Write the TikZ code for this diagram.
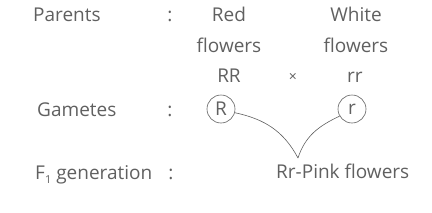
\documentclass[tikz,border=0pt]{standalone}
\usepackage{fontspec}
\setmainfont{Open Sans}
\definecolor{txtGray}{HTML}{606060}
\begin{document}
\begin{tikzpicture}[x=1pt,y=-1pt,
    crossTxt/.style={text=txtGray,font=\fontsize{19}{22}\selectfont,inner sep=0pt},
    gameteCirc/.style={crossTxt,circle,draw=txtGray,line width=0.6pt,minimum size=28pt},
    crossLine/.style={draw=txtGray,line width=0.6pt},
]
\useasboundingbox (0,0) rectangle (432,212);
% row labels
\node[crossTxt,anchor=base west] (parents) at (33,21) {Parents};
\node[crossTxt,anchor=base] (colP) at (170,21) {:};
\node[crossTxt,anchor=base west] (gametes) at (37,116) {Gametes};
\node[crossTxt,anchor=base] (colG) at (170,116) {:};
\node[crossTxt,anchor=base west] (f1) at (35,179)
    {F\raisebox{-0.45ex}{\fontsize{11}{12}\selectfont 1}\hspace{5pt}generation};
\node[crossTxt,anchor=base] (colF) at (171,179) {:};
% parents
\node[crossTxt,anchor=base] (red) at (229,21) {Red};
\node[crossTxt,anchor=base] (redFl) at (229,52) {flowers};
\node[crossTxt,anchor=base] (RR) at (229,82) {RR};
\node[crossTxt,anchor=base] (white) at (356,21) {White};
\node[crossTxt,anchor=base] (whiteFl) at (356,52) {flowers};
\node[crossTxt,anchor=base] (rr) at (355,82) {rr};
\node[crossTxt,font=\fontsize{14}{16}\selectfont] (cross) at (293,77) {×};
% gametes
\node[gameteCirc] (gR) at (221,109) {R};
\node[gameteCirc] (gr) at (352,109) {r};
% offspring
\node[crossTxt,anchor=base west] (pink) at (276,178) {Rr-Pink flowers};
\coordinate (tip) at (298,158);
\draw[crossLine] (gR.-15) to[out=-12,in=118] (tip);
\draw[crossLine] (gr.-150) to[out=205,in=72] (tip);
\end{tikzpicture}
\end{document}
